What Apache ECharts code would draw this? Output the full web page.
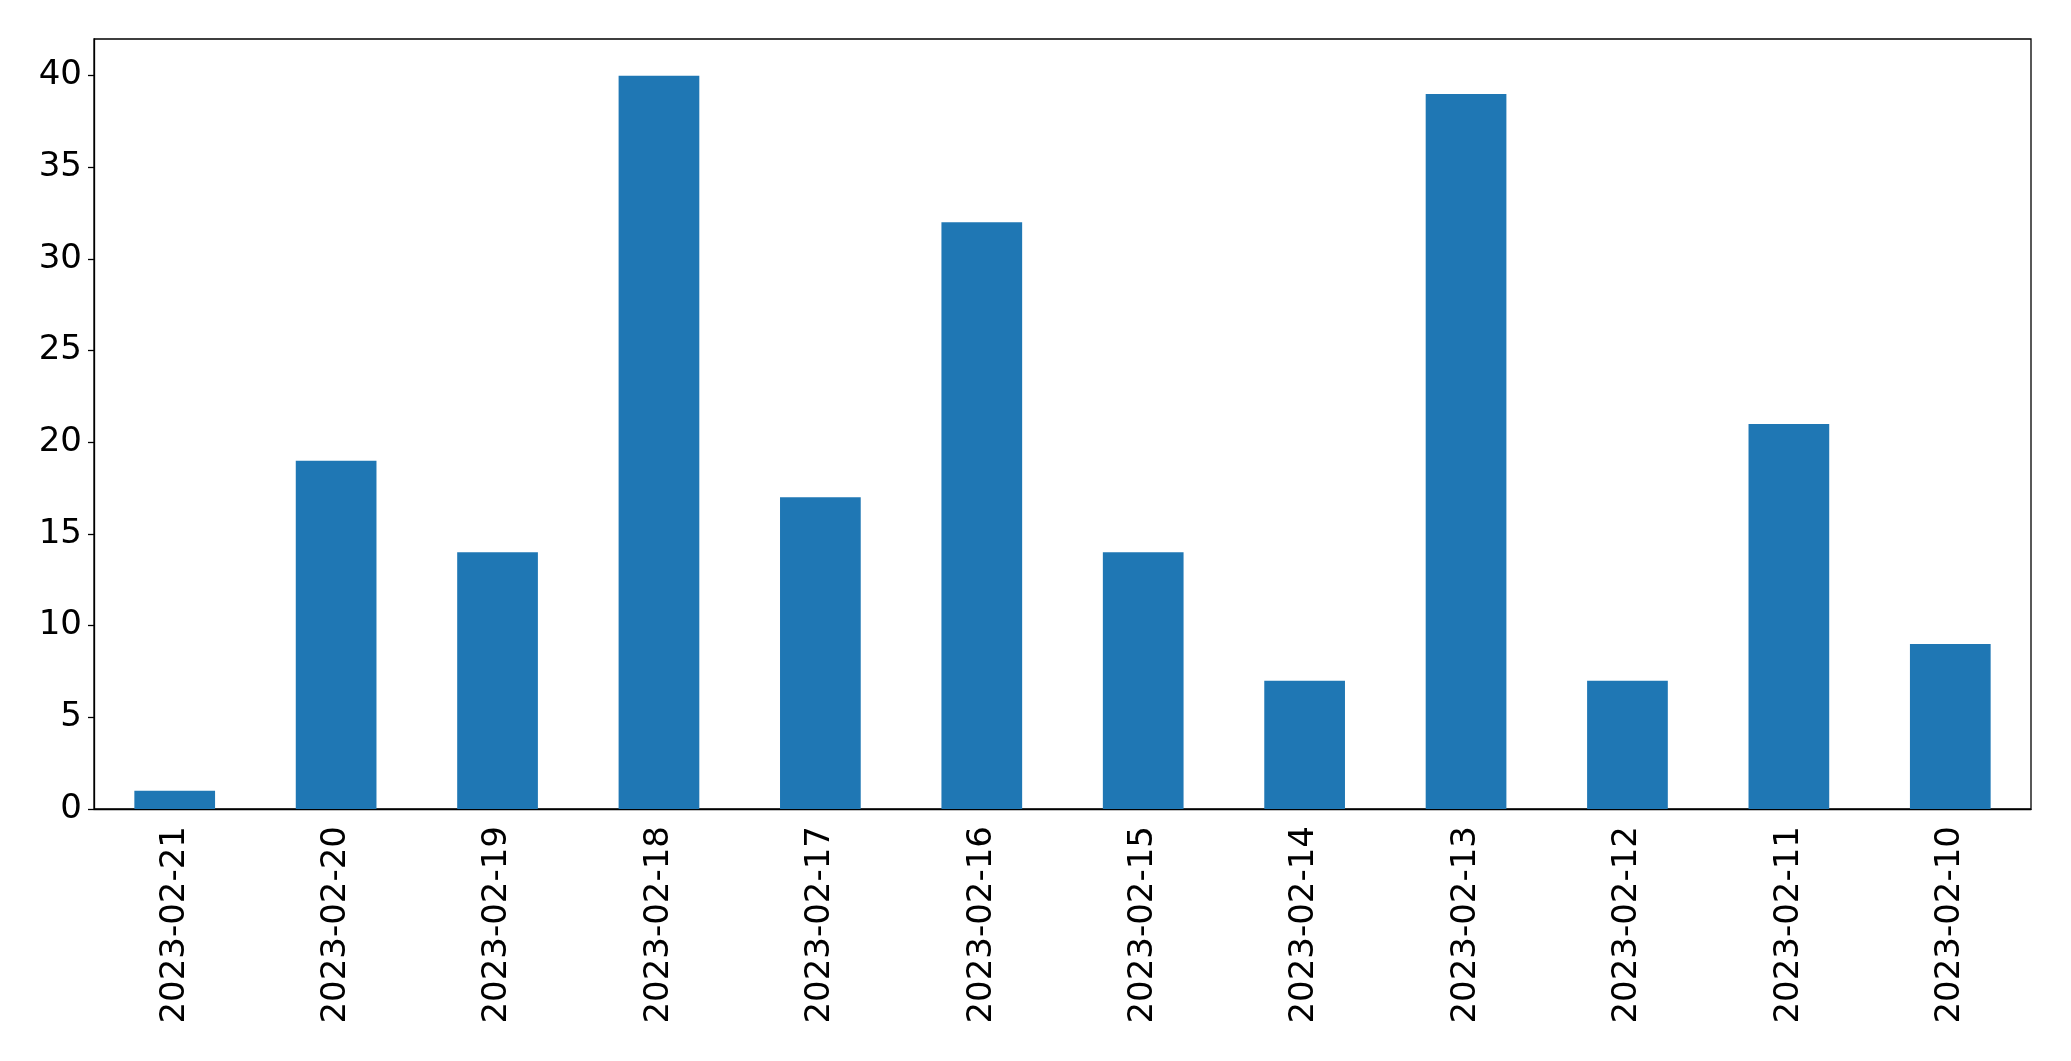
<!DOCTYPE html>
<html>
<head>
<meta charset="utf-8">
<script src="https://cdn.jsdelivr.net/npm/echarts@6/dist/echarts.min.js"></script>
<style>html,body{margin:0;padding:0;background:#fff;}#c{width:2071px;height:1061px;}</style>
</head>
<body>
<div id="c"></div>
<script>
const categories = ["2023-02-21","2023-02-20","2023-02-19","2023-02-18","2023-02-17","2023-02-16","2023-02-15","2023-02-14","2023-02-13","2023-02-12","2023-02-11","2023-02-10"];
const values = [1, 19, 14, 40, 17, 32, 14, 7, 39, 7, 21, 9];
const yTicks = [0, 5, 10, 15, 20, 25, 30, 35, 40];

const chart = echarts.init(document.getElementById('c'), null, {renderer: 'canvas'});
const font = 'DejaVu Sans';
chart.setOption({
  animation: false,
  backgroundColor: '#fff',
  grid: {left: 94, right: 40, top: 39, bottom: 252, show: true, borderColor: '#000', borderWidth: 1.3, containLabel: false},
  xAxis: {
    type: 'category',
    data: categories,
    boundaryGap: true,
    axisLine: {lineStyle: {color: '#000', width: 1.3}},
    axisTick: {alignWithLabel: true, length: 6, lineStyle: {color: '#000', width: 1.3}},
    axisLabel: {rotate: 90, margin: 17, color: '#000', fontSize: 34, fontFamily: font, interval: 0},
    splitLine: {show: false}
  },
  yAxis: {
    type: 'value',
    min: 0, max: 42,
    axisLine: {show: true, lineStyle: {color: '#000', width: 1.3}},
    axisTick: {show: true, length: 6, customValues: yTicks, lineStyle: {color: '#000', width: 1.3}},
    axisLabel: {customValues: yTicks, margin: 12, color: '#000', fontSize: 34, fontFamily: font},
    splitLine: {show: false}
  },
  series: [{
    type: 'bar',
    data: values,
    barWidth: '50%',
    itemStyle: {color: '#1f77b4'}
  }]
});
</script>
</body>
</html>
